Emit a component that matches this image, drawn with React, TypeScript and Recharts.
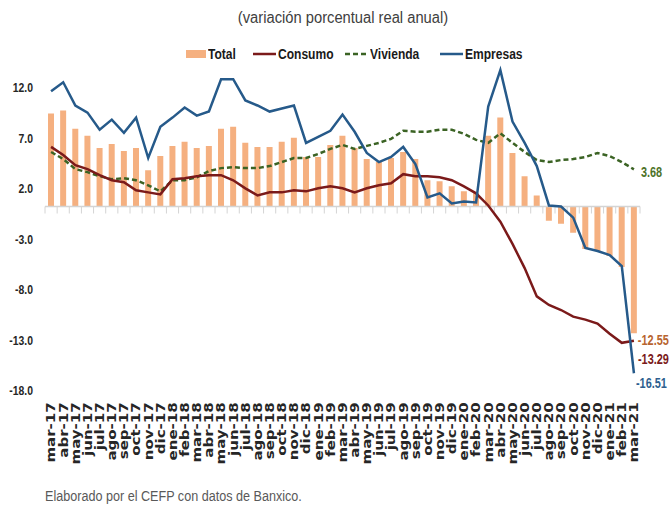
import React from 'react';
import { ComposedChart, Bar, Line, XAxis, YAxis, ReferenceLine, LabelList } from 'recharts';

const meses = [
  'mar-17', 'abr-17', 'may-17', 'jun-17', 'jul-17', 'ago-17', 'sep-17', 'oct-17', 'nov-17', 'dic-17',
  'ene-18', 'feb-18', 'mar-18', 'abr-18', 'may-18', 'jun-18', 'jul-18', 'ago-18', 'sep-18', 'oct-18', 'nov-18', 'dic-18',
  'ene-19', 'feb-19', 'mar-19', 'abr-19', 'may-19', 'jun-19', 'jul-19', 'ago-19', 'sep-19', 'oct-19', 'nov-19', 'dic-19',
  'ene-20', 'feb-20', 'mar-20', 'abr-20', 'may-20', 'jun-20', 'jul-20', 'ago-20', 'sep-20', 'oct-20', 'nov-20', 'dic-20',
  'ene-21', 'feb-21', 'mar-21',
];

const total = [
  9.2, 9.5, 7.7, 7.0, 5.8, 6.2, 5.5, 5.8, 3.6, 5.0,
  6.0, 6.4, 5.8, 6.0, 7.7, 7.9, 6.3, 5.9, 5.9, 6.4, 6.8, 4.9,
  4.9, 6.1, 7.0, 5.8, 4.7, 4.4, 4.8, 5.4, 4.7, 2.6, 2.5, 2.0,
  1.5, 1.3, 7.0, 8.8, 5.3, 3.0, 1.1, -1.4, -1.7, -2.6, -4.2, -4.4,
  -4.9, -6.0, -12.55,
];

const consumo = [
  5.9, 5.1, 4.1, 3.7, 3.1, 2.6, 2.4, 1.6, 1.4, 1.2,
  2.7, 2.8, 3.0, 3.1, 3.1, 2.6, 1.8, 1.1, 1.4, 1.4, 1.6, 1.5,
  1.8, 2.0, 1.8, 1.4, 1.8, 2.1, 2.3, 3.2, 3.0, 3.0, 2.9, 2.6,
  2.0, 1.3, 0.1, -1.5, -3.7, -6.1, -8.9, -9.75, -10.25, -10.9, -11.2, -11.6,
  -12.6, -13.5, -13.29,
];

const vivienda = [
  5.4, 4.7, 3.7, 3.4, 3.0, 2.7, 2.8, 2.6, 2.1, 1.5,
  2.6, 2.6, 2.9, 3.5, 3.8, 3.9, 3.8, 3.8, 4.0, 4.4, 4.8, 4.8,
  5.2, 5.7, 6.1, 5.7, 6.0, 6.3, 6.7, 7.5, 7.4, 7.4, 7.6, 7.6,
  7.2, 6.6, 6.3, 7.25, 6.3, 5.4, 4.6, 4.4, 4.6, 4.7, 4.9, 5.3,
  5.0, 4.4, 3.68,
];

const empresas = [
  11.4, 12.3, 10.0, 9.3, 7.6, 8.6, 7.3, 8.8, 4.8, 7.9,
  8.8, 9.8, 9.0, 9.4, 12.6, 12.6, 10.5, 10.0, 9.4, 9.7, 10.0, 6.3,
  6.9, 7.5, 9.1, 7.4, 5.3, 4.4, 4.9, 5.9, 4.2, 0.9, 1.3, 0.3,
  0.5, 0.4, 9.9, 13.5, 8.4, 6.3, 4.0, 0.1, 0.0, -1.1, -4.1, -4.4,
  -4.8, -5.9, -16.51,
];

const yTicks = [-18, -13, -8, -3, 2, 7, 12];
const yDomain = [-18, 14];

const data = meses.map((mes, i) => ({
  mes,
  total: total[i],
  consumo: consumo[i],
  vivienda: vivienda[i],
  empresas: empresas[i],
}));

const SANS = "'Liberation Sans', Arial, sans-serif";
const WIDE = "'DejaVu Sans', sans-serif";

const C_TOTAL = '#F5B080';
const C_CONSUMO = '#7B1A1A';
const C_VIVIENDA = '#3B6324';
const C_EMPRESAS = '#265A8A';

const lastIdx = meses.length - 1;

const CatTick = (props: any) => {
  const { x, y, payload } = props;
  return (
    <g transform={`translate(${x},${y + 14})`}>
      <text
        transform="rotate(-90) scale(1,0.8)"
        x={0}
        y={0}
        textAnchor="end"
        dominantBaseline="central"
        fontFamily={WIDE}
        fontWeight={700}
        fontSize={15}
        fill="#262626"
      >
        {payload.value}
      </text>
    </g>
  );
};

const YTick = (props: any) => {
  const { x, y, payload } = props;
  return (
    <g transform={`translate(${x},${y + 2})`}>
      <text
        transform="scale(0.8,1)"
        x={0}
        y={0}
        textAnchor="end"
        dominantBaseline="central"
        fontFamily={SANS}
        fontWeight={700}
        fontSize={13}
        fill="#262626"
      >
        {Number(payload.value).toFixed(1)}
      </text>
    </g>
  );
};

const ZeroLine = (props: any) => {
  const { x1, x2, y1 } = props;
  const n = meses.length;
  const step = (x2 - x1) / n;
  const marks = meses.map((_, i) => x1 + i * step).concat([x2]);
  return (
    <g>
      {marks.map((mx, i) => (
        <line key={i} x1={mx} x2={mx} y1={y1} y2={y1 + 7} stroke="#D4D4D4" strokeWidth={1} />
      ))}
      <line x1={x1} x2={x2} y1={y1} y2={y1} stroke="#D4D4D4" strokeWidth={1.5} />
    </g>
  );
};

const fmt2 = (v: number) => v.toFixed(2);

const EndText = ({ x, y, color, children }: any) => (
  <g transform={`translate(${x},${y})`}>
    <text
      transform="scale(0.78,1)"
      x={0}
      y={0}
      dominantBaseline="central"
      fontFamily={SANS}
      fontWeight={700}
      fontSize={14}
      fill={color}
    >
      {children}
    </text>
  </g>
);

const lineEndLabel = (color: string, dx: number, dy: number) => (props: any) => {
  const { x, y, value, index } = props;
  if (index !== lastIdx) return null;
  return (
    <EndText x={x + dx} y={y + dy} color={color}>
      {fmt2(value)}
    </EndText>
  );
};

const barEndLabel = (props: any) => {
  const { x, y, width, height, value, index } = props;
  if (index !== lastIdx) return null;
  const bottom = Math.max(y, y + height);
  return (
    <EndText x={x + width + 1} y={bottom + 7} color="#B8652F">
      {fmt2(value)}
    </EndText>
  );
};

const legendItems = [
  { name: 'Total', color: C_TOTAL, kind: 'box', left: 186 },
  { name: 'Consumo', color: C_CONSUMO, kind: 'line', left: 253 },
  { name: 'Vivienda', color: C_VIVIENDA, kind: 'dash', left: 345 },
  { name: 'Empresas', color: C_EMPRESAS, kind: 'line', left: 440 },
];

const LegendMarker = ({ kind, color }: { kind: string; color: string }) => {
  if (kind === 'box') {
    return (
      <svg width={20} height={10} style={{ display: 'block' }}>
        <rect x={0} y={1} width={20} height={8} fill={color} />
      </svg>
    );
  }
  return (
    <svg width={23} height={10} style={{ display: 'block' }}>
      <line
        x1={0}
        x2={23}
        y1={5}
        y2={5}
        stroke={color}
        strokeWidth={2.5}
        strokeDasharray={kind === 'dash' ? '5 3' : undefined}
      />
    </svg>
  );
};

export default function App() {
  return (
    <div style={{ position: 'absolute', left: 0, top: 0, width: 671, height: 506, background: '#fff', overflow: 'hidden' }}>
      <div
        style={{
          position: 'absolute',
          left: 343,
          top: 7,
          transform: 'translateX(-50%) scaleX(0.92)',
          fontFamily: SANS,
          fontSize: 16,
          lineHeight: '22px',
          color: '#404040',
          whiteSpace: 'nowrap',
        }}
      >
        (variación porcentual real anual)
      </div>
      {legendItems.map((it) => (
        <div
          key={it.name}
          style={{
            position: 'absolute',
            left: it.left,
            top: 46,
            height: 16,
            display: 'flex',
            alignItems: 'center',
            gap: 2,
            fontFamily: SANS,
            fontWeight: 700,
            fontSize: 14,
            color: '#1a1a1a',
            whiteSpace: 'nowrap',
          }}
        >
          <LegendMarker kind={it.kind} color={it.color} />
          <span style={{ display: 'inline-block', transform: 'scaleX(0.86)', transformOrigin: 'left center' }}>
            {it.name}
          </span>
        </div>
      ))}
      <div style={{ position: 'absolute', left: 0, top: 0 }}>
        <ComposedChart
          width={671}
          height={506}
          data={data}
          margin={{ top: 65.1, right: 31, bottom: 0, left: 0 }}
        >
          <XAxis
            dataKey="mes"
            interval={0}
            axisLine={false}
            tickLine={false}
            tickSize={0}
            tickMargin={0}
            height={117.7}
            tick={<CatTick />}
          />
          <YAxis
            domain={yDomain}
            ticks={yTicks}
            allowDataOverflow
            width={45}
            axisLine={false}
            tickLine={false}
            tickSize={0}
            tickMargin={12}
            tick={<YTick />}
          />
          <Bar dataKey="total" fill={C_TOTAL} barSize={6} isAnimationActive={false}>
            <LabelList dataKey="total" content={barEndLabel} />
          </Bar>
          <ReferenceLine y={0} shape={ZeroLine} />
          <Line
            dataKey="vivienda"
            stroke={C_VIVIENDA}
            strokeWidth={2.5}
            strokeDasharray="5 3"
            dot={false}
            isAnimationActive={false}
          >
            <LabelList dataKey="vivienda" content={lineEndLabel('#4E7329', 7, 3)} />
          </Line>
          <Line dataKey="consumo" stroke={C_CONSUMO} strokeWidth={2.5} dot={false} isAnimationActive={false}>
            <LabelList dataKey="consumo" content={lineEndLabel(C_CONSUMO, 4, 19)} />
          </Line>
          <Line dataKey="empresas" stroke={C_EMPRESAS} strokeWidth={2.5} dot={false} isAnimationActive={false}>
            <LabelList dataKey="empresas" content={lineEndLabel('#2E5F8F', 2, 10)} />
          </Line>
        </ComposedChart>
      </div>
      <div
        style={{
          position: 'absolute',
          left: 45,
          top: 487,
          transform: 'scaleX(0.9)',
          transformOrigin: 'left center',
          fontFamily: SANS,
          fontSize: 14,
          lineHeight: '18px',
          color: '#595959',
          whiteSpace: 'nowrap',
        }}
      >
        Elaborado por el CEFP con datos de Banxico.
      </div>
    </div>
  );
}
